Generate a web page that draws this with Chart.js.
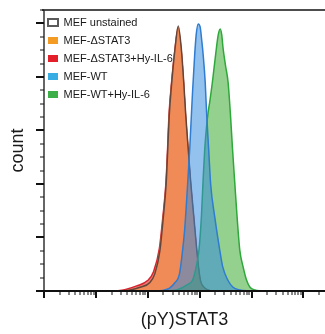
<!DOCTYPE html>
<html>
<head>
<meta charset="utf-8">
<script src="https://cdn.jsdelivr.net/npm/chart.js@4.4.1/dist/chart.umd.min.js"></script>
<style>
  html, body { margin: 0; padding: 0; background: #fff; }
  #wrap { width: 325px; height: 334px; position: relative; }
</style>
</head>
<body>
<div id="wrap"><canvas id="histChart"></canvas></div>
<script>
// Histogram data ((pY)STAT3 intensity vs. % of mode)
const seriesLabels = ['MEF unstained', 'MEF-\u0394STAT3', 'MEF-\u0394STAT3+Hy-IL-6', 'MEF-WT', 'MEF-WT+Hy-IL-6'];

const unstainedX = [30, 46, 71, 110, 137, 171, 199, 226, 242, 259, 290, 337, 386, 440, 492, 538, 602, 672, 770, 878, 980, 1050, 1200, 1430, 1700];
const unstainedY = [0, 0.4, 1.4, 3.2, 6.5, 15.0, 27.5, 40.2, 52.5, 65.5, 78.0, 91.0, 99.0, 91.2, 78.3, 66.0, 53.0, 40.6, 27.9, 15.5, 6.8, 3.5, 1.5, 0.4, 0];

const koX = [28, 44, 69, 108, 135, 169, 197, 225, 241, 257, 288, 336, 384, 439, 491, 536, 600, 670, 766, 875, 978, 1045, 1195, 1427, 1706];
const koY = [0, 0.4, 1.5, 3.4, 6.7, 15.3, 27.7, 40.4, 52.7, 65.8, 78.1, 90.8, 98.6, 90.8, 78.1, 65.8, 52.7, 40.4, 27.7, 15.3, 6.7, 3.4, 1.5, 0.4, 0];

const koIlX = [23, 36, 61, 99, 129, 167, 196, 224, 240, 256, 287, 335, 382, 437, 489, 534, 598, 668, 763, 872, 975, 1042, 1190, 1420, 1700];
const koIlY = [0, 0.5, 1.9, 3.9, 7.2, 15.8, 28.0, 40.5, 52.5, 65.5, 77.8, 90.5, 97.8, 90.4, 77.8, 65.6, 52.6, 40.2, 27.5, 15.2, 6.6, 3.3, 1.4, 0.4, 0];

const wtX = [154, 211, 263, 329, 411, 469, 513, 561, 600, 641, 685, 732, 801, 856, 935, 1023, 1093, 1168, 1277, 1365, 1492, 1632, 1949, 2435, 2782, 3476, 4341, 5929, 9252];
const wtY = [0, 0.4, 1.1, 3.0, 6.7, 15.3, 22.8, 34.0, 43.3, 52.7, 63.9, 75.1, 88.2, 95.7, 99.8, 98.6, 93.8, 88.2, 78.1, 65.8, 52.7, 39.6, 27.7, 15.3, 9.0, 4.1, 1.5, 0.4, 0];

const wtIlX = [211, 359, 561, 732, 856, 969, 1079, 1158, 1249, 1365, 1459, 1561, 1760, 2102, 2278, 2490, 2662, 2820, 3180, 3523, 3920, 4283, 4746, 5257, 5929, 6867, 7989, 9252, 11557, 15783];
const wtIlY = [0, 0.4, 2.2, 4.1, 9.0, 15.3, 27.7, 40.4, 52.7, 62.0, 66.9, 70.6, 78.1, 90.8, 95.7, 97.9, 95.7, 90.8, 83.7, 78.1, 65.8, 53.4, 40.4, 27.7, 15.3, 9.0, 4.1, 1.5, 0.4, 0];

// Axis ticks (no labels on either axis)
const xMajorTicks = [1, 10, 100, 1000, 10000, 100000];
const yMajorTicks = [0, 20, 40, 60, 80, 100];
const yMinorStep = 5;

const legendFill = ['#ffffff', '#f39b22', '#e3202a', '#38ade3', '#3caf48'];
const legendStroke = ['#5a5a5a', '#f39b22', '#e3202a', '#38ade3', '#3caf48'];

function toPoints(xs, ys) {
    return xs.map((x, i) => ({ x: x, y: ys[i] }));
}

Chart.defaults.font.family = '"Liberation Sans", Arial, Helvetica, sans-serif';

// Draw frame lines and tick marks (long majors, short minors) from the scales
const axisTicks = {
    id: 'axisTicks',
    afterLayout(chart) {
        // nudge the in-plot legend to the top-left corner
        const lg = chart.legend;
        if (lg) {
            lg.left = chart.chartArea.left - 3;
            lg.top = chart.chartArea.top;
            lg.right = lg.left + lg.width;
            lg.bottom = lg.top + lg.height;
        }
    },
    afterDraw(chart) {
        const { ctx, chartArea: a, scales: { x, y } } = chart;
        ctx.save();
        ctx.lineCap = 'butt';

        // top frame line
        ctx.strokeStyle = '#4d4d4d';
        ctx.lineWidth = 2;
        ctx.beginPath();
        ctx.moveTo(a.left - 2, a.top);
        ctx.lineTo(a.right, a.top);
        ctx.stroke();

        // y axis line
        ctx.strokeStyle = '#333';
        ctx.lineWidth = 1.5;
        ctx.beginPath();
        ctx.moveTo(a.left, a.top);
        ctx.lineTo(a.left, a.bottom);
        ctx.stroke();

        // y ticks
        ctx.strokeStyle = '#111';
        for (let v = 0; v <= y.max; v += yMinorStep) {
            const py = Math.round(y.getPixelForValue(v));
            const major = yMajorTicks.includes(v);
            ctx.lineWidth = major ? 2 : 1;
            ctx.beginPath();
            ctx.moveTo(a.left - (major ? 8 : 4), py);
            ctx.lineTo(a.left, py);
            ctx.stroke();
        }

        // x axis line
        ctx.strokeStyle = '#111';
        ctx.lineWidth = 2;
        ctx.beginPath();
        ctx.moveTo(a.left - 2, a.bottom);
        ctx.lineTo(a.right, a.bottom);
        ctx.stroke();

        // x ticks, log spaced
        xMajorTicks.forEach(dec => {
            for (let m = 1; m <= 9; m++) {
                const v = dec * m;
                if (v > x.max) break;
                const px = Math.round(x.getPixelForValue(v));
                const major = m === 1;
                ctx.lineWidth = major ? 2 : 1;
                ctx.beginPath();
                ctx.moveTo(px, a.bottom);
                ctx.lineTo(px, a.bottom + (major ? 7 : 4));
                ctx.stroke();
            }
        });
        ctx.restore();
    }
};

const ctx = document.getElementById('histChart').getContext('2d');
const histChart = new Chart(ctx, {
    type: 'line',
    data: {
        datasets: [
            {
                label: seriesLabels[0],
                data: toPoints(unstainedX, unstainedY),
                borderColor: 'rgba(80, 60, 55, 0.85)',
                borderWidth: 1.5,
                fill: false,
                order: 2
            },
            {
                label: seriesLabels[1],
                data: toPoints(koX, koY),
                borderColor: '#e57a40',
                backgroundColor: '#f08b57',
                borderWidth: 1,
                fill: 'origin',
                order: 3
            },
            {
                label: seriesLabels[2],
                data: toPoints(koIlX, koIlY),
                borderColor: '#d8242f',
                backgroundColor: 'rgba(225, 70, 70, 0.7)',
                borderWidth: 1.5,
                fill: 'origin',
                order: 4
            },
            {
                label: seriesLabels[3],
                data: toPoints(wtX, wtY),
                borderColor: '#2f7cd0',
                backgroundColor: 'rgba(50, 138, 222, 0.52)',
                borderWidth: 1.5,
                fill: 'origin',
                order: 0
            },
            {
                label: seriesLabels[4],
                data: toPoints(wtIlX, wtIlY),
                borderColor: '#2ea83a',
                backgroundColor: 'rgba(60, 170, 50, 0.55)',
                borderWidth: 1.5,
                fill: 'origin',
                order: 1
            }
        ]
    },
    options: {
        responsive: true,
        maintainAspectRatio: false,
        animation: false,
        layout: { padding: { top: 10, left: 0, right: 0, bottom: 0 } },
        elements: {
            point: { radius: 0, hoverRadius: 0 },
            line: { cubicInterpolationMode: 'monotone' }
        },
        plugins: {
            tooltip: { enabled: false },
            legend: {
                position: 'chartArea',
                align: 'start',
                labels: {
                    boxWidth: 10,
                    boxHeight: 7,
                    padding: 7,
                    color: '#1a1a1a',
                    font: { size: 11 },
                    generateLabels: chart => chart.data.datasets.map((ds, i) => ({
                        text: ds.label,
                        fillStyle: legendFill[i],
                        strokeStyle: legendStroke[i],
                        lineWidth: i === 0 ? 2 : 0,
                        fontColor: '#1a1a1a',
                        hidden: false,
                        datasetIndex: i
                    }))
                }
            }
        },
        scales: {
            x: {
                type: 'logarithmic',
                min: 1,
                max: 260000,
                grid: { display: false },
                border: { display: false },
                ticks: { display: false },
                title: {
                    display: true,
                    text: '(pY)STAT3',
                    color: '#1a1a1a',
                    font: { size: 18 },
                    padding: { top: 0, bottom: 3 }
                },
                afterFit(scale) { scale.height = 43; }
            },
            y: {
                min: 0,
                max: 105,
                grid: { display: false },
                border: { display: false },
                ticks: { display: false },
                title: {
                    display: true,
                    text: 'count',
                    color: '#1a1a1a',
                    font: { size: 18 },
                    padding: { top: 7, bottom: 0 }
                },
                afterFit(scale) { scale.width = 44; }
            }
        }
    },
    plugins: [axisTicks]
});
</script>
</body>
</html>
